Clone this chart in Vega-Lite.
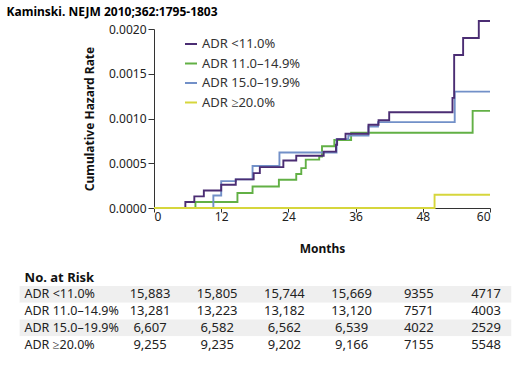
{
  "$schema": "https://vega.github.io/schema/vega-lite/v6.json",
  "background": "white",
  "padding": {"left": 6, "top": 6, "right": 5, "bottom": 5},
  "title": {"text": "Kaminski. NEJM 2010;362:1795-1803", "anchor": "start", "dx": -13, "font": "Noto Sans", "fontSize": 12, "fontWeight": "bold", "color": "#000000", "offset": -2},
  "spacing": 18,
  "config": {
    "view": {"stroke": null},
    "font": "Noto Sans",
    "axis": {"domainColor": "#333333", "tickColor": "#333333", "labelColor": "#222222", "labelFont": "Noto Sans", "labelFontSize": 12, "titleFont": "Noto Sans", "titleFontSize": 12, "titleFontWeight": "bold", "titleColor": "#111111", "grid": false}
  },
  "vconcat": [
    {
      "width": 336,
      "height": 179,
      "data": {"values": [
        {"group": "ADR 11.0–14.9%", "month": 0, "rate": 0},
        {"group": "ADR 11.0–14.9%", "month": 7.4, "rate": 0.000067},
        {"group": "ADR 11.0–14.9%", "month": 14.9, "rate": 0.000167},
        {"group": "ADR 11.0–14.9%", "month": 17.6, "rate": 0.00024},
        {"group": "ADR 11.0–14.9%", "month": 22.3, "rate": 0.000316},
        {"group": "ADR 11.0–14.9%", "month": 25.4, "rate": 0.00038},
        {"group": "ADR 11.0–14.9%", "month": 26.3, "rate": 0.000446},
        {"group": "ADR 11.0–14.9%", "month": 27.1, "rate": 0.00054},
        {"group": "ADR 11.0–14.9%", "month": 29.5, "rate": 0.000576},
        {"group": "ADR 11.0–14.9%", "month": 30.0, "rate": 0.00069},
        {"group": "ADR 11.0–14.9%", "month": 32.2, "rate": 0.00076},
        {"group": "ADR 11.0–14.9%", "month": 35.2, "rate": 0.00084},
        {"group": "ADR 11.0–14.9%", "month": 56.9, "rate": 0.001085},
        {"group": "ADR 11.0–14.9%", "month": 60, "rate": 0.001085},
        {"group": "ADR 15.0–19.9%", "month": 0, "rate": 0},
        {"group": "ADR 15.0–19.9%", "month": 10.6, "rate": 0.00014},
        {"group": "ADR 15.0–19.9%", "month": 12.0, "rate": 0.0003},
        {"group": "ADR 15.0–19.9%", "month": 14.6, "rate": 0.00032},
        {"group": "ADR 15.0–19.9%", "month": 17.6, "rate": 0.00047},
        {"group": "ADR 15.0–19.9%", "month": 22.4, "rate": 0.00062},
        {"group": "ADR 15.0–19.9%", "month": 32.6, "rate": 0.00077},
        {"group": "ADR 15.0–19.9%", "month": 34.7, "rate": 0.00081},
        {"group": "ADR 15.0–19.9%", "month": 38.3, "rate": 0.00091},
        {"group": "ADR 15.0–19.9%", "month": 40.0, "rate": 0.00096},
        {"group": "ADR 15.0–19.9%", "month": 53.7, "rate": 0.0013},
        {"group": "ADR 15.0–19.9%", "month": 60, "rate": 0.0013},
        {"group": "ADR <11.0%", "month": 0, "rate": 0},
        {"group": "ADR <11.0%", "month": 5.6, "rate": 0.000067},
        {"group": "ADR <11.0%", "month": 7.2, "rate": 0.00013},
        {"group": "ADR <11.0%", "month": 8.9, "rate": 0.000196},
        {"group": "ADR <11.0%", "month": 12.0, "rate": 0.00026},
        {"group": "ADR <11.0%", "month": 14.6, "rate": 0.00032},
        {"group": "ADR <11.0%", "month": 17.8, "rate": 0.00039},
        {"group": "ADR <11.0%", "month": 18.9, "rate": 0.000457},
        {"group": "ADR <11.0%", "month": 23.1, "rate": 0.00053},
        {"group": "ADR <11.0%", "month": 25.4, "rate": 0.000583},
        {"group": "ADR <11.0%", "month": 30.3, "rate": 0.00063},
        {"group": "ADR <11.0%", "month": 32.5, "rate": 0.000706},
        {"group": "ADR <11.0%", "month": 32.7, "rate": 0.00077},
        {"group": "ADR <11.0%", "month": 34.2, "rate": 0.00083},
        {"group": "ADR <11.0%", "month": 38.3, "rate": 0.00093},
        {"group": "ADR <11.0%", "month": 40.1, "rate": 0.00098},
        {"group": "ADR <11.0%", "month": 42.0, "rate": 0.00107},
        {"group": "ADR <11.0%", "month": 53.3, "rate": 0.00123},
        {"group": "ADR <11.0%", "month": 53.6, "rate": 0.00171},
        {"group": "ADR <11.0%", "month": 55.2, "rate": 0.0019},
        {"group": "ADR <11.0%", "month": 58.0, "rate": 0.00209},
        {"group": "ADR <11.0%", "month": 60, "rate": 0.00209},
        {"group": "ADR ≥20.0%", "month": 0, "rate": 0},
        {"group": "ADR ≥20.0%", "month": 50.1, "rate": 0.000148},
        {"group": "ADR ≥20.0%", "month": 60, "rate": 0.000148}
      ]},
      "mark": {"type": "line", "interpolate": "step-after", "strokeWidth": 1.9},
      "encoding": {
        "x": {"field": "month", "type": "quantitative", "scale": {"domain": [0, 60], "nice": false},
              "axis": {"values": [0, 12, 24, 36, 48, 60], "title": "Months", "tickSize": 4, "labelPadding": -1, "titlePadding": 21}},
        "y": {"field": "rate", "type": "quantitative", "scale": {"domain": [0, 0.002], "nice": false},
              "axis": {"values": [0, 0.0005, 0.001, 0.0015, 0.002], "format": ".4f", "title": "Cumulative Hazard Rate", "tickSize": 6, "labelPadding": 2, "titlePadding": 12}},
        "color": {"field": "group", "type": "nominal",
                  "scale": {"domain": ["ADR <11.0%", "ADR 11.0–14.9%", "ADR 15.0–19.9%", "ADR ≥20.0%"], "range": ["#4b2d73", "#62b045", "#7290c8", "#d6d63c"]},
                  "legend": {"title": null, "orient": "none", "legendX": 30, "legendY": 8, "symbolType": "stroke", "symbolSize": 144, "symbolStrokeWidth": 2, "labelFont": "Noto Sans", "labelFontSize": 13, "labelColor": "#333333", "rowPadding": 5.5, "padding": 0, "labelOffset": 4}}
      }
    },
    {
      "width": 336,
      "height": 67,
      "title": {"text": "No. at Risk", "anchor": "start", "frame": "bounds", "dx": 5, "font": "Noto Sans", "fontSize": 13, "fontWeight": "bold", "color": "#111111", "offset": 1},
      "data": {"values": [
        {"group": "ADR <11.0%", "month": 0, "n": "15,883"},
        {"group": "ADR <11.0%", "month": 12, "n": "15,805"},
        {"group": "ADR <11.0%", "month": 24, "n": "15,744"},
        {"group": "ADR <11.0%", "month": 36, "n": "15,669"},
        {"group": "ADR <11.0%", "month": 48, "n": "9355"},
        {"group": "ADR <11.0%", "month": 60, "n": "4717"},
        {"group": "ADR 11.0–14.9%", "month": 0, "n": "13,281"},
        {"group": "ADR 11.0–14.9%", "month": 12, "n": "13,223"},
        {"group": "ADR 11.0–14.9%", "month": 24, "n": "13,182"},
        {"group": "ADR 11.0–14.9%", "month": 36, "n": "13,120"},
        {"group": "ADR 11.0–14.9%", "month": 48, "n": "7571"},
        {"group": "ADR 11.0–14.9%", "month": 60, "n": "4003"},
        {"group": "ADR 15.0–19.9%", "month": 0, "n": "6,607"},
        {"group": "ADR 15.0–19.9%", "month": 12, "n": "6,582"},
        {"group": "ADR 15.0–19.9%", "month": 24, "n": "6,562"},
        {"group": "ADR 15.0–19.9%", "month": 36, "n": "6,539"},
        {"group": "ADR 15.0–19.9%", "month": 48, "n": "4022"},
        {"group": "ADR 15.0–19.9%", "month": 60, "n": "2529"},
        {"group": "ADR ≥20.0%", "month": 0, "n": "9,255"},
        {"group": "ADR ≥20.0%", "month": 12, "n": "9,235"},
        {"group": "ADR ≥20.0%", "month": 24, "n": "9,202"},
        {"group": "ADR ≥20.0%", "month": 36, "n": "9,166"},
        {"group": "ADR ≥20.0%", "month": 48, "n": "7155"},
        {"group": "ADR ≥20.0%", "month": 60, "n": "5548"}
      ]},
      "layer": [
        {
          "transform": [{"filter": "datum.month == 0"}],
          "mark": {"type": "rect"},
          "encoding": {
            "x": {"datum": -24, "type": "quantitative", "scale": {"domain": [0, 60], "nice": false}, "axis": null},
            "x2": {"datum": 63.8},
            "y": {"field": "group", "type": "nominal", "sort": ["ADR <11.0%", "ADR 11.0–14.9%", "ADR 15.0–19.9%", "ADR ≥20.0%"], "scale": {"paddingInner": 0, "paddingOuter": 0},
                  "axis": {"title": null, "domain": false, "ticks": false, "labelAlign": "left", "labelPadding": 130, "labelFont": "Noto Sans", "labelFontSize": 12.5, "labelColor": "#222222"}},
            "fill": {"field": "group", "type": "nominal", "scale": {"domain": ["ADR <11.0%", "ADR 11.0–14.9%", "ADR 15.0–19.9%", "ADR ≥20.0%"], "range": ["#efefef", "#ffffff", "#efefef", "#ffffff"]}, "legend": null}
          }
        },
        {
          "mark": {"type": "text", "dx": -4, "font": "Noto Sans", "fontSize": 13, "color": "#222222"},
          "encoding": {
            "x": {"field": "month", "type": "quantitative", "scale": {"domain": [0, 60], "nice": false}, "axis": null},
            "y": {"field": "group", "type": "nominal", "sort": ["ADR <11.0%", "ADR 11.0–14.9%", "ADR 15.0–19.9%", "ADR ≥20.0%"], "scale": {"paddingInner": 0, "paddingOuter": 0},
                  "axis": {"title": null, "domain": false, "ticks": false, "labelAlign": "left", "labelPadding": 130, "labelFont": "Noto Sans", "labelFontSize": 12.5, "labelColor": "#222222"}},
            "text": {"field": "n"}
          }
        }
      ]
    }
  ]
}
